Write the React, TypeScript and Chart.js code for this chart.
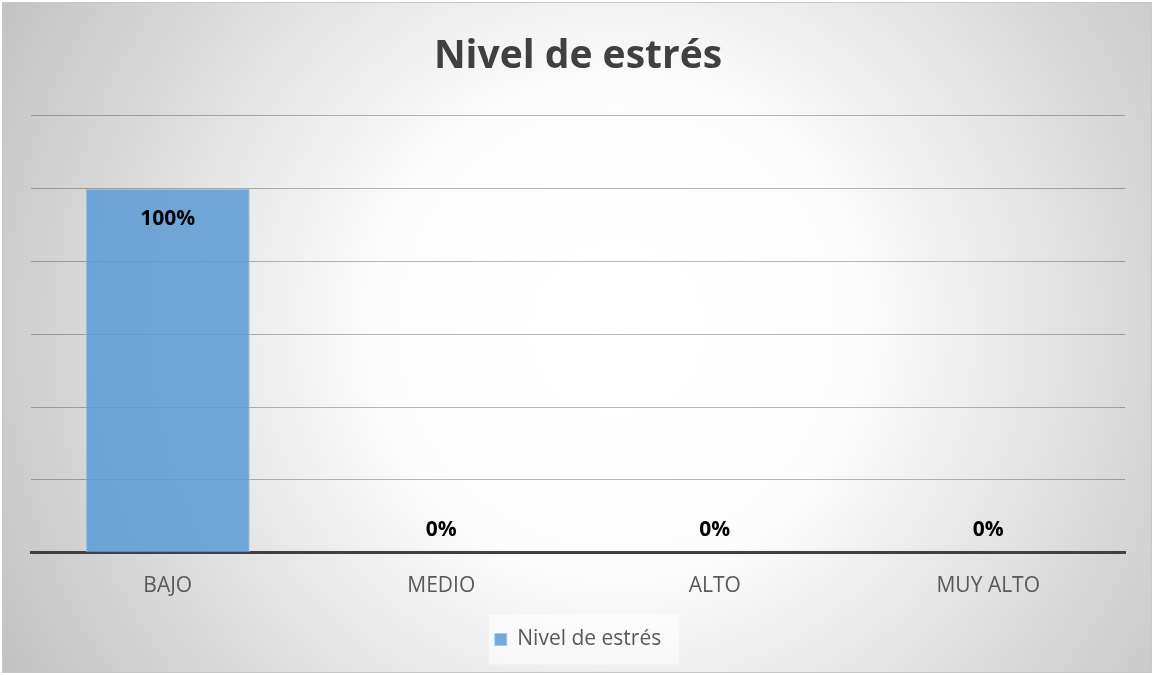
import React, { useEffect, useRef } from "react";
import { Chart, registerables } from "chart.js";

Chart.register(...registerables);

const categories = ["BAJO", "MEDIO", "ALTO", "MUY ALTO"];
const values = [1, 0, 0, 0];
const seriesName = "Nivel de estrés";
const titleText = "Nivel de estrés";

const FONT = "'Open Sans', 'Noto Sans', sans-serif";

const bgPlugin = {
  id: "bgPlugin",
  beforeDraw(chart: any) {
    const { ctx, width, height } = chart;
    ctx.save();
    ctx.fillStyle = "#ffffff";
    ctx.fillRect(0, 0, width, height);
    const cx = width / 2 + 40;
    const cy = height / 2 - 10;
    const g = ctx.createRadialGradient(cx, cy, 0, cx, cy, 700);
    g.addColorStop(0, "#ffffff");
    g.addColorStop(0.35, "#fcfcfc");
    g.addColorStop(1, "#c2c2c2");
    ctx.fillStyle = g;
    ctx.fillRect(3, 3, width - 6, height - 6);
    ctx.strokeStyle = "#c8c8c8";
    ctx.lineWidth = 1;
    ctx.strokeRect(2.5, 2.5, width - 5, height - 5);
    const lg = chart.legend;
    if (lg && lg.legendHitBoxes && lg.legendHitBoxes.length) {
      const hb = lg.legendHitBoxes[0];
      ctx.fillStyle = "rgba(255,255,255,0.55)";
      ctx.fillRect(hb.left - 6, hb.top + hb.height / 2 - 25, hb.width + 24, 50);
    }
    ctx.restore();
  },
};

const labelPlugin = {
  id: "labelPlugin",
  afterDatasetsDraw(chart: any) {
    const { ctx } = chart;
    const meta = chart.getDatasetMeta(0);
    ctx.save();
    ctx.font = `bold 21px ${FONT}`;
    ctx.fillStyle = "#000000";
    ctx.textAlign = "center";
    ctx.textBaseline = "middle";
    meta.data.forEach((bar: any, i: number) => {
      const v = values[i];
      const txt = Math.round(v * 100) + "%";
      const y = v > 0 ? bar.y + 30 : bar.y - 23;
      ctx.fillText(txt, bar.x, y);
    });
    ctx.restore();
  },
};

export default function App() {
  const ref = useRef<HTMLCanvasElement>(null);
  useEffect(() => {
    const chart = new Chart(ref.current as HTMLCanvasElement, {
      type: "bar",
      data: {
        labels: categories,
        datasets: [
          {
            label: seriesName,
            data: values,
            backgroundColor: "rgba(91,155,213,0.85)",
            borderColor: "rgba(160,200,235,0.9)",
            borderWidth: 1,
            categoryPercentage: 1,
            barPercentage: 0.6,
          },
        ],
      },
      options: {
        animation: false,
        responsive: false,
        maintainAspectRatio: false,
        layout: { padding: { left: 31, right: 29, top: 0, bottom: 15 } },
        plugins: {
          title: {
            display: true,
            text: titleText,
            color: "#404040",
            font: { family: FONT, size: 39, weight: "bold" },
            padding: { top: 33, bottom: 36 },
          },
          legend: {
            display: true,
            position: "bottom",
            labels: {
              color: "#595959",
              font: { family: FONT, size: 21 },
              boxWidth: 12,
              boxHeight: 12,
              padding: 9,
            },
          },
          tooltip: { enabled: false },
        },
        scales: {
          x: {
            grid: { display: false, drawTicks: false },
            border: { display: true, color: "#404040", width: 3 },
            ticks: {
              color: "#595959",
              font: { family: FONT, size: 21 },
              padding: 21,
            },
          },
          y: {
            min: 0,
            max: 1.2,
            ticks: { display: false, stepSize: 0.2 },
            grid: { color: "rgba(0,0,0,0.28)", lineWidth: 1, drawTicks: false },
            border: { display: false },
          },
        },
      },
      plugins: [bgPlugin, labelPlugin],
    });
    return () => chart.destroy();
  }, []);
  return (
    <div style={{ position: "fixed", left: 0, top: 0, width: 1154, height: 675 }}>
      <canvas ref={ref} width={1154} height={675} />
    </div>
  );
}
